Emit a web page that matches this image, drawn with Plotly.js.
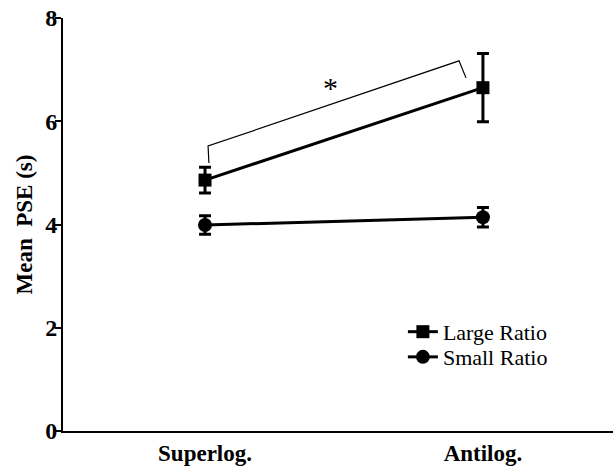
<!DOCTYPE html>
<html>
<head>
<meta charset="utf-8">
<script src="https://cdn.plot.ly/plotly-2.35.2.min.js"></script>
<style>
  html, body { margin: 0; padding: 0; background: #fff; }
  #chart { width: 613px; height: 469px; }
</style>
</head>
<body>
<div id="chart"></div>
<script>
// Conditions on the x axis
const conditions = ['Superlog.', 'Antilog.'];

// Mean PSE (s) and standard errors per ratio condition
const largeRatioMean = [4.86, 6.65];
const largeRatioErr  = [0.25, 0.66];
const smallRatioMean = [3.99, 4.14];
const smallRatioErr  = [0.18, 0.19];

const yTicks = [0, 2, 4, 6, 8];

const serif = 'Liberation Serif, Times New Roman, serif';

const traces = [
  {
    name: 'Large Ratio',
    legend: 'legend',
    x: conditions,
    y: largeRatioMean,
    error_y: { type: 'data', array: largeRatioErr, visible: true, color: '#000', thickness: 3, width: 6 },
    mode: 'lines+markers',
    line: { color: '#000', width: 3 },
    marker: { symbol: 'square', size: 13, color: '#000' }
  },
  {
    name: 'Small Ratio',
    legend: 'legend2',
    x: conditions,
    y: smallRatioMean,
    error_y: { type: 'data', array: smallRatioErr, visible: true, color: '#000', thickness: 3, width: 6 },
    mode: 'lines+markers',
    line: { color: '#000', width: 3 },
    marker: { symbol: 'circle', size: 14, color: '#000' }
  }
];

// Significance bracket between the two Large Ratio points
const bracket = 'M 0.014 5.19 L 0.011 5.52 L 0.914 7.17 L 0.939 6.84';

// One legend box per series so the two rows sit close together
const legendStyle = (yPos) => ({
  x: 0.618, y: yPos, xanchor: 'left', yanchor: 'middle',
  font: { family: serif, size: 22, color: '#000' },
  itemwidth: 30,
  bgcolor: 'rgba(0,0,0,0)'
});

const layout = {
  width: 613,
  height: 469,
  margin: { l: 63, r: 0, t: 18, b: 38 },
  paper_bgcolor: '#fff',
  plot_bgcolor: '#fff',
  showlegend: true,
  legend: legendStyle(0.240),
  legend2: legendStyle(0.179),
  xaxis: {
    type: 'category',
    range: [-0.511, 1.468],
    showgrid: false,
    zeroline: false,
    showline: true,
    linecolor: '#000',
    linewidth: 2,
    ticks: '',
    tickfont: { family: serif, size: 23, color: '#000', weight: 'bold' },
    fixedrange: true
  },
  yaxis: {
    range: [0, 8],
    tickvals: yTicks,
    ticktext: yTicks.map(String),
    showgrid: false,
    zeroline: false,
    showline: true,
    linecolor: '#000',
    linewidth: 2,
    ticks: 'outside',
    ticklen: 6,
    tickwidth: 2,
    tickcolor: '#000',
    ticklabelstandoff: -7,
    tickfont: { family: serif, size: 24, color: '#000', weight: 'bold' },
    title: {
      text: 'Mean  PSE (s)',
      font: { family: serif, size: 23, color: '#000', weight: 'bold' },
      standoff: 6
    },
    fixedrange: true
  },
  shapes: [
    { type: 'path', xref: 'x', yref: 'y', path: bracket, line: { color: '#000', width: 1.2 } }
  ],
  annotations: [
    { x: 0.45, y: 6.66, xref: 'x', yref: 'y', text: '*', showarrow: false,
      font: { family: serif, size: 30, color: '#000' } }
  ]
};

Plotly.newPlot('chart', traces, layout, { staticPlot: true, displayModeBar: false });
</script>
</body>
</html>
